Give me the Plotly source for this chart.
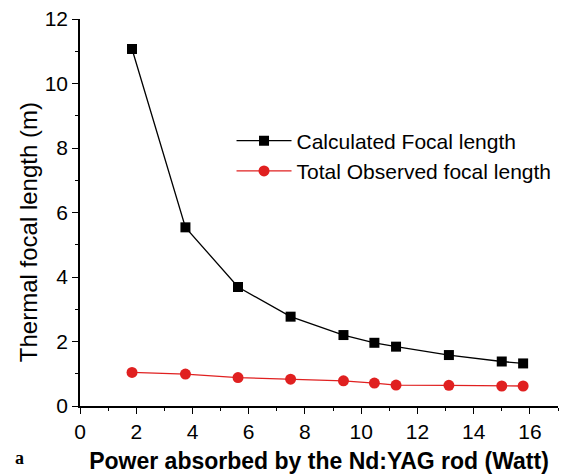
import plotly.graph_objects as go

power = [1.85, 3.75, 5.62, 7.49, 9.37, 10.47, 11.24, 13.12, 15.0, 15.76]
calc_focal = [11.07, 5.54, 3.69, 2.77, 2.20, 1.96, 1.84, 1.58, 1.38, 1.32]
obs_focal = [1.04, 0.99, 0.88, 0.83, 0.78, 0.71, 0.65, 0.64, 0.62, 0.62]

FONT = "Liberation Sans, Arial, sans-serif"

fig = go.Figure()
fig.add_trace(go.Scatter(
    x=power, y=calc_focal, mode="lines+markers", name="Calculated Focal length",
    line=dict(color="black", width=1.3),
    marker=dict(symbol="square", size=10, color="black"),
))
fig.add_trace(go.Scatter(
    x=power, y=obs_focal, mode="lines+markers", name="Total Observed focal length",
    line=dict(color="#e02020", width=1.3),
    marker=dict(symbol="circle", size=11, color="#e02020"),
))

axis_common = dict(
    showline=True, linecolor="black", linewidth=1.5, mirror=False,
    ticks="outside", ticklen=6, tickwidth=1.3, tickcolor="black",
    showgrid=False, zeroline=False,
    tickfont=dict(family=FONT, size=21, color="black"),
    minor=dict(ticks="outside", ticklen=3, tickwidth=1.1, tickcolor="black", dtick=1),
)

fig.update_xaxes(range=[0, 17], tickvals=[0, 2, 4, 6, 8, 10, 12, 14, 16],
                 title=dict(text="<b>Power absorbed by the Nd:YAG rod (Watt)</b>",
                            font=dict(family=FONT, size=23, color="black"), standoff=11),
                 **axis_common)
fig.update_yaxes(range=[0, 12], tickvals=[0, 2, 4, 6, 8, 10, 12],
                 **axis_common)

fig.update_layout(
    width=564, height=476,
    margin=dict(l=80, r=6, t=19, b=67),
    plot_bgcolor="white", paper_bgcolor="white",
    showlegend=True,
    legend=dict(x=0.317, y=0.646, xanchor="left", yanchor="middle",
                font=dict(family=FONT, size=21, color="black"),
                bgcolor="rgba(0,0,0,0)", itemwidth=55, tracegroupgap=0),
)
fig.add_annotation(text="Thermal focal length (m)", xref="paper", yref="paper",
                   x=-0.109, y=0.449, xanchor="center", yanchor="middle",
                   textangle=-90, showarrow=False,
                   font=dict(family=FONT, size=24, color="black"))
fig.add_annotation(text="<b>a</b>", xref="paper", yref="paper", x=-0.14, y=-0.135,
                   xanchor="left", yanchor="middle", showarrow=False,
                   font=dict(family="Liberation Serif, Times New Roman, serif", size=18, color="black"))

fig.write_html("out.html")
